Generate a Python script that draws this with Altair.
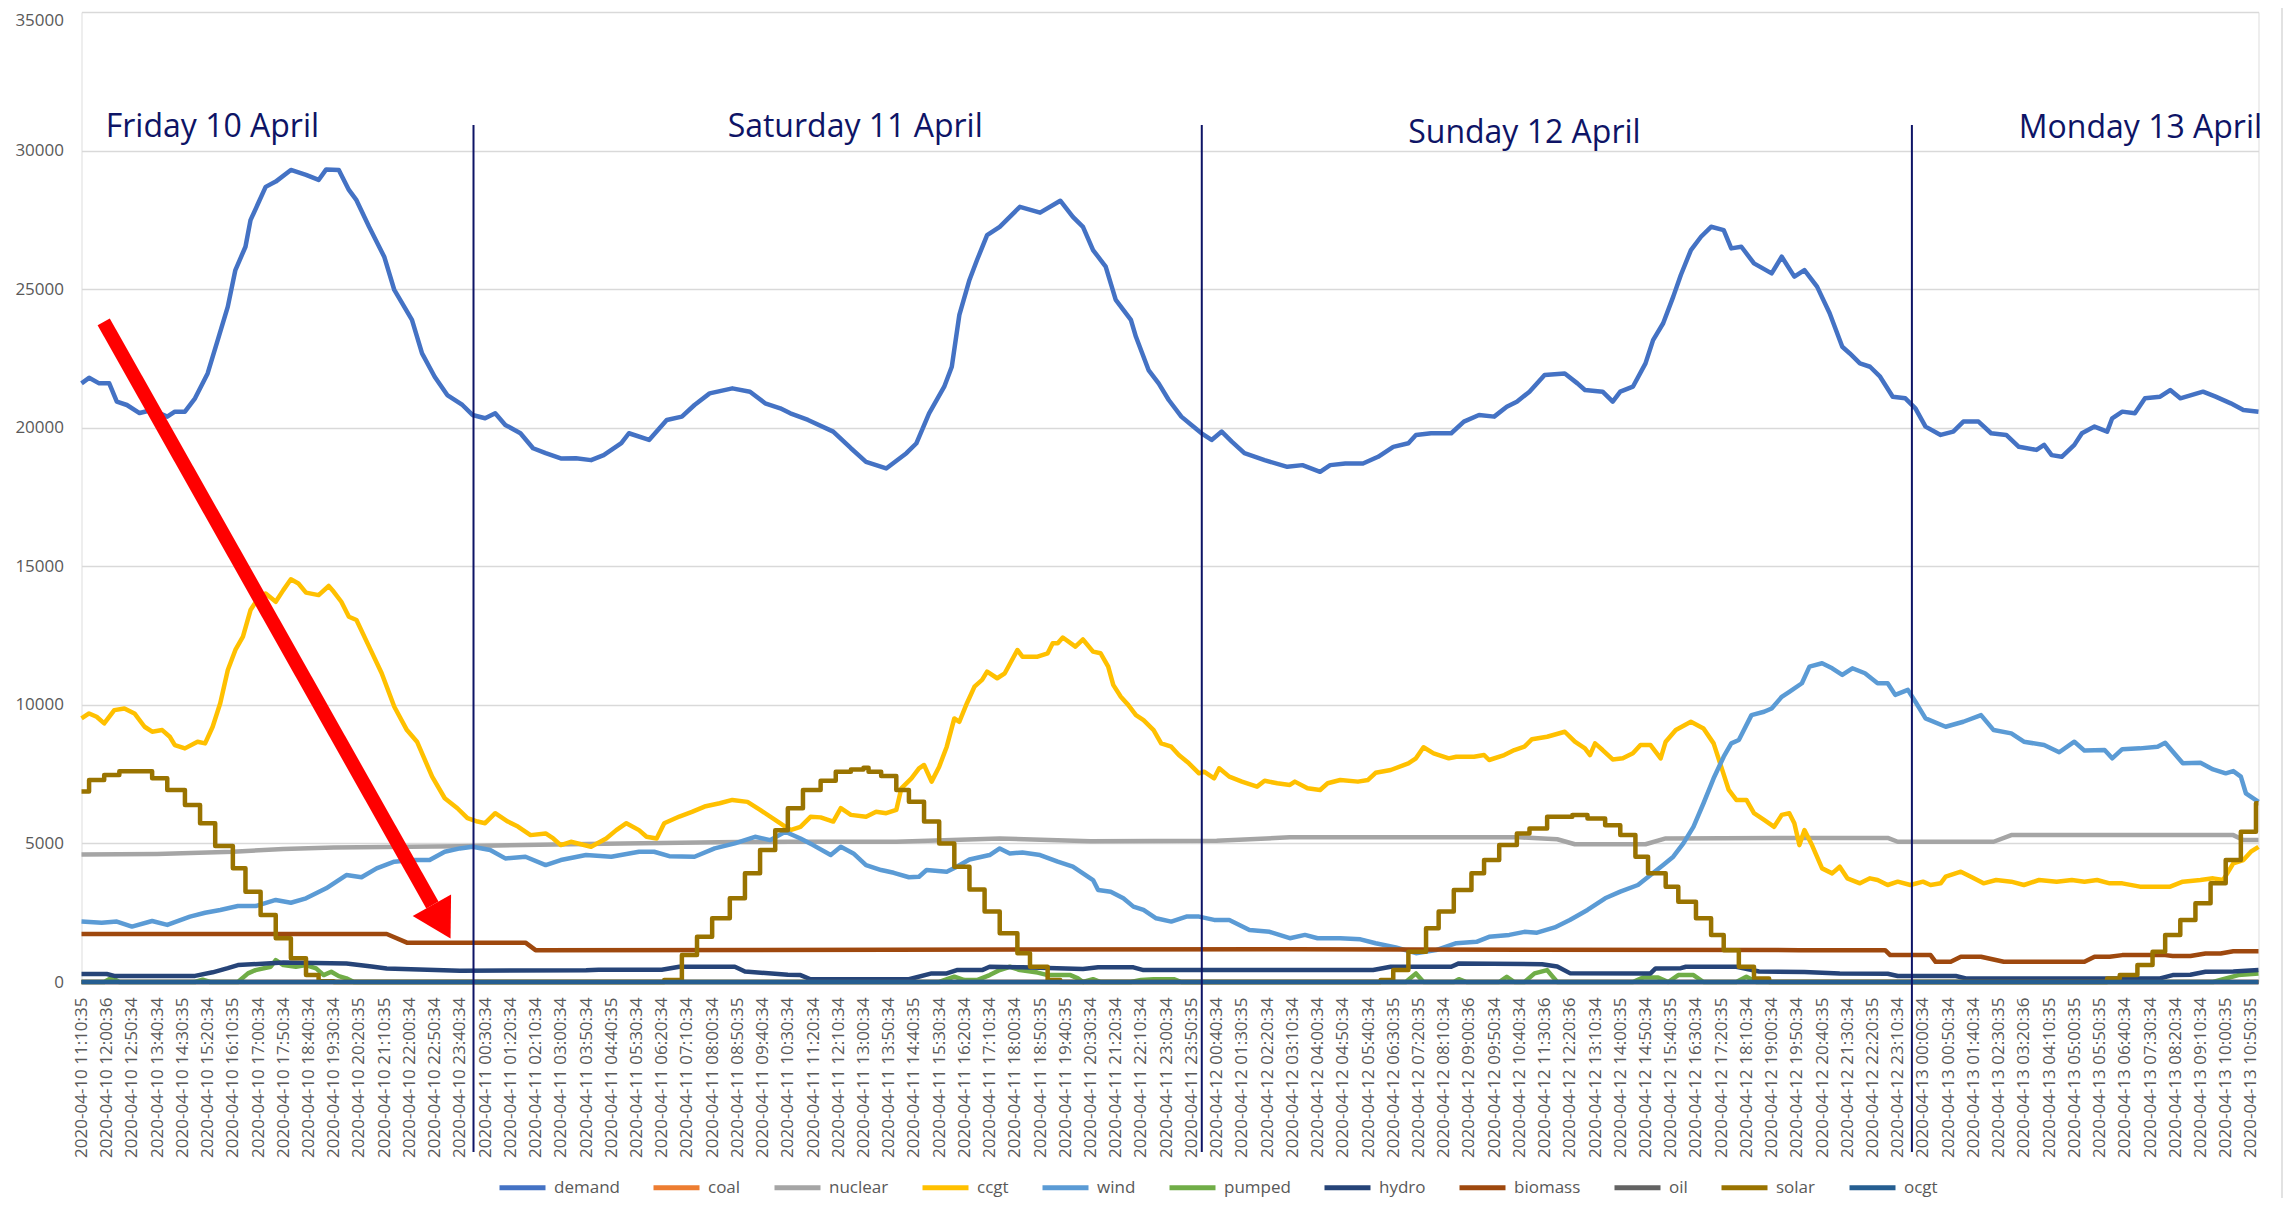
import altair as alt
import pandas as pd

# ---------------- x-axis category labels (one every 10 five-minute steps) ----------------
day10_times = ["11:10:35", "12:00:36", "12:50:34", "13:40:34", "14:30:35", "15:20:34", "16:10:35",
               "17:00:34", "17:50:34", "18:40:34", "19:30:34", "20:20:35", "21:10:35", "22:00:34",
               "22:50:34", "23:40:34"]
day11_times = ["00:30:34", "01:20:34", "02:10:34", "03:00:34", "03:50:34", "04:40:35", "05:30:34",
               "06:20:34", "07:10:34", "08:00:34", "08:50:35", "09:40:34", "10:30:34", "11:20:34",
               "12:10:34", "13:00:34", "13:50:34", "14:40:35", "15:30:34", "16:20:34", "17:10:34",
               "18:00:34", "18:50:35", "19:40:35", "20:30:34", "21:20:34", "22:10:34", "23:00:34",
               "23:50:35"]
day12_times = ["00:40:34", "01:30:35", "02:20:34", "03:10:34", "04:00:34", "04:50:34", "05:40:34",
               "06:30:35", "07:20:35", "08:10:34", "09:00:36", "09:50:34", "10:40:34", "11:30:36",
               "12:20:36", "13:10:34", "14:00:35", "14:50:34", "15:40:35", "16:30:34", "17:20:35",
               "18:10:34", "19:00:34", "19:50:34", "20:40:35", "21:30:34", "22:20:35", "23:10:34"]
day13_times = ["00:00:34", "00:50:34", "01:40:34", "02:30:35", "03:20:36", "04:10:35", "05:00:35",
               "05:50:35", "06:40:34", "07:30:34", "08:20:34", "09:10:34", "10:00:35", "10:50:35"]
x_labels = ([f"2020-04-10 {t}" for t in day10_times] + [f"2020-04-11 {t}" for t in day11_times]
            + [f"2020-04-12 {t}" for t in day12_times] + [f"2020-04-13 {t}" for t in day13_times])
LAST_STEP = 863  # index of last 5-minute sample

# ---------------- series (t = 5-minute step index, v = MW) ----------------
demand_t = [0, 3, 7, 11, 14, 18, 23, 28, 34, 37, 41, 45, 50, 54, 58, 61, 65, 67, 70, 73, 77, 83, 89, 94, 97,
            102, 106, 109, 114, 120, 124, 131, 135, 140, 145, 151, 155, 160, 164, 168, 174, 179, 184, 190,
            196, 202, 207, 214, 217, 225, 232, 238, 243, 249, 258, 265, 271, 277, 281, 288, 298, 305, 311,
            319, 327, 331, 336, 342, 345, 348, 352, 355, 359, 364, 372, 380, 388, 393, 397, 401, 406, 410,
            416, 418, 423, 427, 431, 436, 440, 444, 448, 452, 456, 461, 469, 478, 484, 491, 495, 501, 508,
            514, 520, 526, 529, 535, 543, 548, 554, 560, 565, 569, 574, 580, 588, 593, 596, 603, 607, 610,
            615, 620, 623, 627, 631, 634, 638, 642, 646, 651, 654, 658, 663, 670, 674, 679, 683, 688, 693,
            698, 701, 705, 709, 713, 718, 723, 727, 731, 737, 742, 746, 752, 757, 763, 768, 775, 778, 781,
            785, 790, 793, 798, 803, 805, 809, 814, 818, 824, 828, 832, 841, 846, 852, 857, 863]
demand_v = [21600, 21800, 21600, 21600, 20940, 20820, 20530, 20640, 20400, 20580, 20580, 21060, 21960,
            23160, 24370, 25690, 26530, 27490, 28090, 28690, 28880, 29300, 29120, 28940, 29320, 29300,
            28580, 28210, 27250, 26170, 24970, 23890, 22680, 21840, 21180, 20820, 20460, 20340, 20520,
            20100, 19800, 19260, 19080, 18890, 18900, 18830, 19010, 19440, 19800, 19560, 20280, 20400,
            20820, 21240, 21420, 21300, 20880, 20700, 20520, 20280, 19860, 19260, 18770, 18530, 19080,
            19440, 20520, 21480, 22200, 24070, 25330, 26050, 26950, 27250, 27970, 27760, 28190, 27610,
            27250, 26410, 25810, 24610, 23890, 23280, 22080, 21600, 21000, 20400, 20100, 19800, 19560,
            19860, 19500, 19080, 18830, 18590, 18650, 18410, 18650, 18710, 18710, 18950, 19310, 19440,
            19740, 19800, 19800, 20220, 20460, 20400, 20760, 20940, 21300, 21900, 21960, 21600, 21360,
            21300, 20940, 21300, 21480, 22320, 23160, 23770, 24730, 25510, 26410, 26890, 27250, 27130,
            26470, 26530, 25930, 25570, 26170, 25450, 25690, 25090, 24130, 22920, 22680, 22320, 22200,
            21840, 21120, 21060, 20700, 20040, 19740, 19860, 20220, 20220, 19800, 19740, 19310, 19200,
            19380, 19010, 18950, 19380, 19800, 20040, 19860, 20340, 20580, 20520, 21060, 21120, 21360,
            21060, 21300, 21120, 20880, 20640, 20580]

ccgt_t = [0, 3, 6, 9, 13, 17, 21, 25, 28, 32, 35, 37, 41, 46, 49, 52, 55, 58, 61, 64, 67, 70, 73, 77, 80,
          83, 86, 89, 94, 98, 100, 103, 106, 109, 114, 119, 124, 129, 133, 139, 144, 149, 153, 157, 160,
          164, 169, 173, 178, 184, 187, 190, 194, 202, 208, 212, 216, 221, 224, 228, 231, 237, 242, 247,
          253, 258, 264, 269, 276, 281, 285, 289, 293, 298, 301, 305, 311, 315, 319, 323, 325, 329, 332,
          334, 337, 340, 343, 346, 348, 351, 354, 357, 359, 363, 366, 371, 373, 379, 383, 385, 387, 389,
          394, 397, 401, 404, 407, 409, 412, 415, 418, 421, 425, 428, 432, 435, 439, 443, 445, 449, 451,
          455, 460, 466, 469, 474, 479, 481, 486, 491, 494, 499, 506, 510, 513, 519, 526, 529, 532, 536,
          542, 545, 552, 556, 558, 564, 568, 572, 575, 581, 588, 592, 596, 598, 600, 603, 607, 611, 615,
          618, 622, 626, 628, 632, 638, 643, 647, 650, 653, 656, 660, 663, 667, 671, 674, 677, 679, 681,
          683, 686, 690, 694, 697, 700, 705, 709, 712, 716, 720, 725, 730, 733, 737, 739, 745, 749, 754,
          759, 765, 770, 776, 783, 789, 794, 799, 804, 809, 816, 823, 828, 833, 840, 845, 849, 853, 857,
          860, 863]
ccgt_v = [9510, 9690, 9570, 9330, 9810, 9870, 9690, 9210, 9030, 9090, 8850, 8550, 8430, 8670, 8610, 9210,
          10060, 11260, 11980, 12460, 13420, 13840, 14020, 13720, 14140, 14530, 14380, 14050, 13960, 14290,
          14080, 13720, 13180, 13060, 12100, 11140, 9930, 9090, 8670, 7410, 6630, 6270, 5910, 5790, 5730,
          6090, 5790, 5610, 5300, 5360, 5180, 4940, 5060, 4880, 5180, 5480, 5730, 5480, 5240, 5180, 5730,
          5970, 6140, 6330, 6450, 6570, 6500, 6210, 5790, 5480, 5600, 5960, 5940, 5790, 6270, 6030, 5960,
          6140, 6090, 6210, 6990, 7350, 7710, 7830, 7230, 7770, 8490, 9510, 9390, 10060, 10660, 10900,
          11200, 10960, 11140, 11980, 11740, 11740, 11860, 12220, 12220, 12430, 12100, 12360, 11920, 11860,
          11380, 10720, 10290, 9990, 9630, 9450, 9090, 8610, 8490, 8190, 7890, 7530, 7590, 7350, 7710,
          7410, 7230, 7050, 7260, 7170, 7110, 7230, 6990, 6930, 7170, 7290, 7230, 7290, 7550, 7650, 7890,
          8070, 8470, 8250, 8070, 8130, 8130, 8190, 8010, 8190, 8370, 8490, 8760, 8850, 9030, 8670, 8430,
          8190, 8610, 8370, 8030, 8070, 8250, 8550, 8550, 8070, 8670, 9090, 9390, 9150, 8610, 7770, 6930,
          6570, 6570, 6090, 5850, 5600, 6030, 6090, 5730, 4940, 5480, 4940, 4100, 3920, 4160, 3740, 3560,
          3740, 3680, 3500, 3620, 3500, 3620, 3500, 3560, 3800, 3980, 3800, 3560, 3680, 3620, 3500, 3680,
          3620, 3680, 3620, 3680, 3560, 3560, 3440, 3440, 3440, 3620, 3680, 3740, 3680, 4280, 4400, 4700,
          4880]

wind_t = [0, 8, 14, 20, 28, 34, 43, 49, 55, 62, 69, 77, 83, 89, 97, 105, 111, 117, 124, 131, 138, 144, 150,
          155, 162, 168, 176, 184, 190, 200, 210, 221, 227, 233, 243, 251, 259, 267, 273, 279, 285, 290,
          297, 301, 306, 311, 317, 322, 328, 332, 335, 343, 347, 352, 360, 364, 368, 373, 380, 387, 393,
          397, 401, 403, 408, 413, 417, 421, 426, 432, 438, 443, 449, 455, 463, 471, 479, 485, 490, 499,
          507, 513, 521, 529, 537, 545, 553, 558, 566, 572, 577, 584, 590, 597, 604, 610, 617, 622, 627,
          631, 635, 639, 643, 647, 651, 654, 657, 662, 667, 670, 674, 677, 682, 685, 690, 694, 698, 702,
          707, 712, 716, 719, 724, 727, 731, 739, 746, 753, 758, 765, 770, 778, 784, 790, 794, 802, 805,
          809, 816, 823, 826, 833, 840, 845, 850, 853, 856, 858, 863]
wind_v = [2180, 2140, 2180, 2000, 2200, 2060, 2360, 2500, 2600, 2740, 2740, 2960, 2860, 3020, 3380, 3860,
          3780, 4100, 4340, 4400, 4400, 4700, 4820, 4880, 4760, 4460, 4520, 4220, 4400, 4580, 4520, 4700,
          4700, 4540, 4520, 4820, 5000, 5240, 5120, 5420, 5180, 4940, 4580, 4880, 4640, 4220, 4040, 3940,
          3780, 3800, 4040, 3980, 4160, 4420, 4580, 4820, 4640, 4670, 4580, 4340, 4160, 3920, 3680, 3320,
          3260, 3020, 2720, 2600, 2300, 2180, 2360, 2360, 2240, 2240, 1880, 1810, 1580, 1700, 1580, 1580,
          1540, 1400, 1250, 1040, 1150, 1400, 1450, 1630, 1700, 1810, 1780, 1970, 2240, 2600, 3020, 3260,
          3500, 3860, 4220, 4520, 5000, 5600, 6450, 7350, 8130, 8610, 8730, 9630, 9750, 9870, 10290,
          10470, 10780, 11380, 11500, 11320, 11080, 11320, 11140, 10780, 10780, 10360, 10540, 10110,
          9510, 9210, 9390, 9630, 9090, 8970, 8670, 8550, 8290, 8670, 8350, 8370, 8070, 8400, 8430, 8490,
          8630, 7890, 7910, 7670, 7530, 7610, 7410, 6810, 6500]

nuclear_t = [0, 30, 60, 80, 100, 150, 200, 260, 281, 323, 364, 400, 450, 479, 570, 585, 592, 620, 628,
             678, 716, 720, 758, 765, 853, 857, 863]
nuclear_v = [4600, 4620, 4700, 4800, 4850, 4900, 4980, 5050, 5060, 5060, 5180, 5080, 5100, 5220, 5220,
             5150, 4970, 4970, 5180, 5200, 5200, 5060, 5060, 5300, 5300, 5120, 5120]

pumped_t = [0, 9, 12, 15, 45, 48, 51, 62, 66, 69, 75, 77, 80, 85, 89, 93, 96, 99, 102, 105, 108, 340, 346,
            350, 355, 360, 364, 368, 372, 379, 383, 387, 392, 395, 397, 401, 404, 416, 420, 425, 433, 436,
            525, 529, 532, 544, 546, 549, 562, 565, 568, 572, 576, 581, 585, 615, 619, 625, 629, 633, 639,
            643, 656, 660, 664, 845, 849, 855, 863]
pumped_v = [0, 0, 150, 0, 0, 80, 0, 0, 310, 430, 550, 790, 610, 550, 610, 490, 250, 370, 210, 130, 0, 0,
            190, 70, 70, 250, 430, 550, 430, 340, 250, 250, 250, 130, 0, 100, 0, 0, 70, 100, 100, 0, 0,
            310, 0, 0, 100, 0, 0, 190, 0, 0, 310, 430, 0, 0, 160, 160, 0, 250, 250, 0, 0, 190, 0, 0, 100,
            250, 310]

hydro_t = [0, 10, 13, 45, 52, 58, 62, 80, 105, 115, 121, 150, 200, 205, 230, 237, 259, 263, 280, 285, 289,
           328, 337, 343, 347, 357, 360, 373, 397, 403, 417, 421, 483, 512, 519, 543, 546, 579, 585, 590,
           622, 624, 634, 636, 656, 665, 683, 697, 716, 720, 743, 747, 824, 829, 836, 842, 853, 863]
hydro_v = [290, 290, 220, 220, 350, 500, 610, 700, 670, 560, 490, 410, 420, 440, 440, 550, 550, 380, 260,
           250, 100, 100, 310, 310, 430, 430, 550, 530, 470, 530, 530, 430, 430, 430, 550, 550, 670, 640,
           560, 320, 310, 490, 500, 550, 550, 380, 360, 310, 300, 215, 215, 130, 130, 250, 260, 370, 380,
           430]

biomass_t = [0, 121, 129, 176, 180, 479, 681, 715, 717, 733, 735, 741, 745, 753, 762, 794, 798, 804, 809,
             826, 829, 836, 842, 848, 853, 863]
biomass_v = [1730, 1730, 1420, 1420, 1150, 1180, 1150, 1150, 970, 970, 730, 730, 910, 910, 730, 730, 910,
             910, 970, 970, 940, 940, 1030, 1030, 1110, 1110]

solar_t = [0, 3, 9, 15, 28, 34, 41, 47, 53, 60, 65, 71, 77, 83, 89, 94, 100,
           225, 231, 238, 244, 250, 257, 263, 269, 275, 280, 286, 293, 299, 305, 310, 312, 317, 323, 328,
           334, 340, 346, 352, 358, 364, 371, 376, 383, 388,
           510, 515, 520, 526, 533, 538, 544, 551, 556, 562, 569, 574, 581, 591, 597, 604, 610, 616, 621,
           628, 633, 640, 646, 651, 657, 663, 669,
           797, 803, 808, 815, 821, 826, 832, 838, 844, 850, 856, 862, 863]
solar_v = [6870, 7290, 7470, 7600, 7350, 6930, 6390, 5730, 4910, 4100, 3260, 2420, 1580, 860, 250, 30, 0,
           0, 70, 970, 1630, 2300, 3020, 3920, 4760, 5480, 6270, 6930, 7260, 7590, 7670, 7730, 7590, 7430,
           6930, 6500, 5790, 5000, 4160, 3340, 2540, 1760, 1040, 550, 70, 0,
           0, 70, 430, 1090, 1940, 2540, 3320, 3920, 4400, 4940, 5360, 5540, 5960, 6030, 5900, 5660, 5300,
           4520, 3920, 3440, 2900, 2300, 1700, 1150, 550, 130, 0,
           0, 130, 250, 610, 1090, 1700, 2240, 2840, 3560, 4400, 5420, 6450, 6450]

coal_t, coal_v = [0, 863], [0, 0]
oil_t, oil_v = [0, 863], [0, 0]
ocgt_t, ocgt_v = [0, 863], [0, 0]

series_names = ["demand", "coal", "nuclear", "ccgt", "wind", "pumped", "hydro", "biomass", "oil", "solar", "ocgt"]
series_colors = ["#4472C4", "#ED7D31", "#A5A5A5", "#FFC000", "#5B9BD5", "#70AD47", "#264478", "#9E480E",
                 "#636363", "#997300", "#255E91"]
series_data = {
    "demand": (demand_t, demand_v), "coal": (coal_t, coal_v), "nuclear": (nuclear_t, nuclear_v),
    "ccgt": (ccgt_t, ccgt_v), "wind": (wind_t, wind_v), "pumped": (pumped_t, pumped_v),
    "hydro": (hydro_t, hydro_v), "biomass": (biomass_t, biomass_v), "oil": (oil_t, oil_v),
    "solar": (solar_t, solar_v), "ocgt": (ocgt_t, ocgt_v),
}

# ---------------- annotations ----------------
day_text = ["Friday 10 April", "Saturday 11 April", "Sunday 12 April", "Monday 13 April"]
day_text_t = [51.9, 306.7, 572.0, 816.2]
day_text_v = [30490, 30500, 30270, 30450]
divider_t = [155.4, 444.1, 725.6]
divider_top = [30920, 30920, 30920]
divider_bottom = [-6130, -6130, -6130]
arrow_start = (8.8, 23820)
arrow_end = (139.1, 2778)
arrow_head = (142.6, 2172)

NAVY = "#0E1466"
FONT = "Open Sans"
GREY_TXT = "#595959"

frames = []
for name in series_names:
    t, v = series_data[name]
    frames.append(pd.DataFrame({"series": name, "t": t, "v": v}))
df = pd.concat(frames, ignore_index=True)

x_scale = alt.Scale(domain=[0, LAST_STEP], nice=False, zero=False)
y_scale = alt.Scale(domain=[0, 35000], nice=False)
color_scale = alt.Scale(domain=series_names, range=series_colors)

label_expr = "[" + ",".join(f"'{s}'" for s in x_labels) + "][round(datum.value/10)]"
x_axis = alt.Axis(values=list(range(0, 861, 10)), labelExpr=label_expr, labelAngle=270, grid=False,
                  domain=False, ticks=False, labelFontSize=17, labelFont=FONT, labelColor=GREY_TXT,
                  labelPadding=15, title=None, labelOverlap=False, labelFlush=False, labelBound=False)
y_axis = alt.Axis(values=list(range(0, 35001, 5000)), format="d", grid=True, gridColor="#D9D9D9",
                  gridWidth=1.5, domain=False, ticks=False, labelFontSize=17, labelFont=FONT,
                  labelColor=GREY_TXT, labelPadding=18, title=None, labelOverlap=False,
                  labelOffset={"condition": {"test": "datum.value >= 35000", "value": 8}, "value": 0})
legend = alt.Legend(orient="none", legendX=415.5, legendY=1150, direction="horizontal", columns=11,
                    symbolType="stroke", symbolSize=2116, symbolStrokeWidth=5, labelFontSize=17,
                    labelFont=FONT, labelColor=GREY_TXT, labelOffset=6, columnPadding=23, title=None,
                    padding=0)


def X(field):
    return alt.X(field, scale=x_scale, axis=x_axis)


def Y(field):
    return alt.Y(field, scale=y_scale, axis=y_axis)


layers = []
for name in series_names:
    layers.append(
        alt.Chart(df).transform_filter(alt.datum.series == name)
        .mark_line(strokeWidth=4.5, strokeJoin="round", strokeCap="butt",
                   interpolate="step-after" if name == "solar" else "linear")
        .encode(x=X("t:Q"), y=Y("v:Q"),
                color=alt.Color("series:N", scale=color_scale, legend=legend))
    )

days_df = pd.DataFrame({"t": day_text_t, "v": day_text_v, "label": day_text})
days = alt.Chart(days_df).mark_text(font=FONT, fontSize=32, color=NAVY, align="center",
                                     baseline="alphabetic").encode(x=X("t:Q"), y=Y("v:Q"), text="label:N")

div_df = pd.DataFrame({"t": divider_t, "top": divider_top, "bottom": divider_bottom})
dividers = alt.Chart(div_df).mark_rule(color=NAVY, strokeWidth=2).encode(
    x=X("t:Q"), y=Y("top:Q"), y2="bottom:Q")

arrow_df = pd.DataFrame({"t": [arrow_start[0]], "v": [arrow_start[1]], "t2": [arrow_end[0]], "v2": [arrow_end[1]]})
shaft = alt.Chart(arrow_df).mark_rule(color="#FF0000", strokeWidth=14, strokeCap="butt").encode(
    x=X("t:Q"), y=Y("v:Q"), x2="t2:Q", y2="v2:Q")
head_df = pd.DataFrame({"t": [arrow_head[0]], "v": [arrow_head[1]]})
head = alt.Chart(head_df).mark_point(shape="triangle-up", filled=True, size=1936, angle=150.7,
                                     color="#FF0000", opacity=1, strokeWidth=0).encode(x=X("t:Q"), y=Y("v:Q"))

border = alt.Chart(pd.DataFrame({"a": [0]})).mark_rule(color="#D9D9D9", strokeWidth=1.5).encode(
    x=alt.value(2200.5), y=alt.value(-12), y2=alt.value(1200))

chart = alt.layer(*layers, dividers, days, shaft, head, border).properties(
    width=2177, height=970,
    autosize=alt.AutoSizeParams(type="none"),
    padding={"left": 73.5, "top": 4, "right": 25, "bottom": 216},
).configure_view(stroke=None).configure(background="white")

chart.save("out.html", embed_options={"renderer": "svg", "actions": False})
